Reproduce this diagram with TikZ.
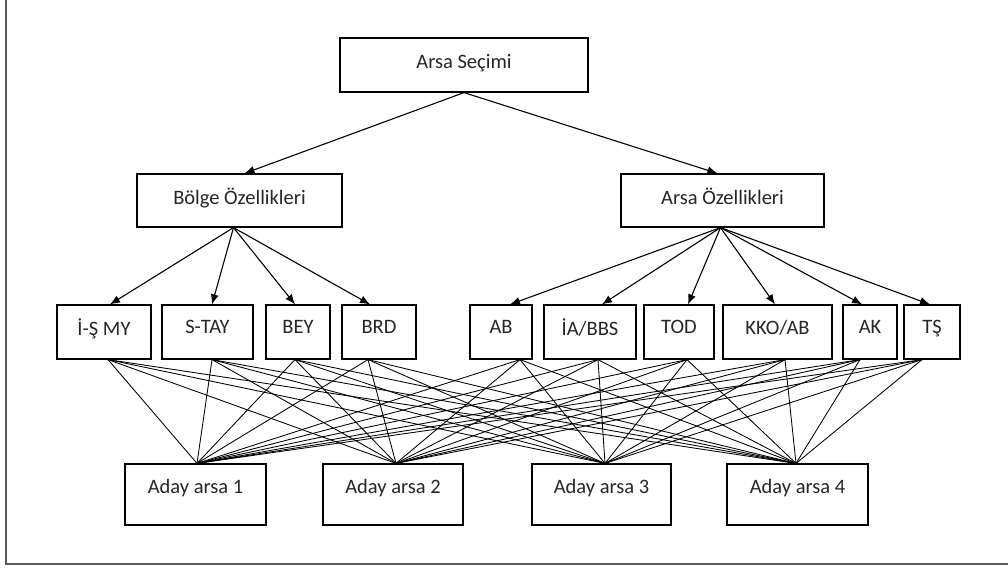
\documentclass[tikz,border=0pt]{standalone}
\usepackage{fontspec}
\setmainfont{Carlito}
\usetikzlibrary{arrows.meta}
\begin{document}
\begin{tikzpicture}[x=1pt,y=-1pt,
  box/.style={draw=black, line width=1.2pt, fill=white, rectangle, inner sep=0pt,
    font=\fontsize{20.5}{22}\selectfont, text=black!85},
  arr/.style={-{Latex[length=10pt,width=8pt]}, line width=1.1pt},
  link/.style={line width=0.85pt}]
\useasboundingbox (0,0) rectangle (1008,568);
\draw[line width=1.6pt, black!65] (6,-2) -- (6,564) -- (1010,564);
% top
\node[box, minimum width=248pt, minimum height=54pt, text depth=8pt] (top) at (464,65) {Arsa Seçimi};
\node[box, minimum width=205pt, minimum height=53pt, text depth=8pt] (bolge) at (239.5,200.5) {Bölge Özellikleri};
\node[box, minimum width=203pt, minimum height=53pt, text depth=8pt] (arsaoz) at (722.5,200.5) {Arsa Özellikleri};
% middle
\foreach \n/\x/\w/\t in {m1/104/94/{İ-Ş MY}, m2/207.5/91/{S-TAY}, m3/298/64/{BEY}, m4/379/74/{BRD},
  m5/501/62/{AB}, m6/590/92/{İA/BBS}, m7/679/70/{TOD}, m8/777.5/109/{KKO/AB}, m9/870/54/{AK}, m10/932/56/{TŞ}}
  \node[box, minimum width=\w pt, minimum height=54pt, text depth=10pt] (\n) at (\x,332) {\t};
% bottom
\foreach \n/\x/\w/\t in {b1/195.5/141/{Aday arsa 1}, b2/393/140/{Aday arsa 2}, b3/601.5/139/{Aday arsa 3}, b4/797.5/141/{Aday arsa 4}}
  \node[box, minimum width=\w pt, minimum height=61pt, text depth=17pt] (\n) at (\x,494.5) {\t};
% arrows level 1
\draw[arr] (top.south) -- ([xshift=5pt]bolge.north);
\draw[arr] (top.south) -- ([xshift=-5pt]arsaoz.north);
% arrows level 2
\coordinate (bs) at ([xshift=-6pt]bolge.south);
\coordinate (as) at ([xshift=-2pt]arsaoz.south);
\foreach \n/\d in {m1/6, m2/4.5, m3/-3, m4/-9}
  \draw[arr] (bs) -- ([xshift=\d pt]\n.north);
\foreach \n/\d in {m5/9, m6/12, m7/9, m8/-2.5, m9/-8, m10/-2}
  \draw[arr] (as) -- ([xshift=\d pt]\n.north);
% links
\foreach \n/\d in {b1/1.5, b2/3, b3/3.5, b4/-1.5}
  \coordinate (\n t) at ([xshift=\d pt]\n.north);
\foreach \n/\d in {m1/4, m2/4.5, m3/-3, m4/-11, m5/19, m6/8, m7/8, m8/7.5, m9/-10, m10/-10}{
  \coordinate (\n s) at ([xshift=\d pt]\n.south);
  \foreach \b in {b1,b2,b3,b4}
    \draw[link] (\n s) -- (\b t);
}
\end{tikzpicture}
\end{document}
